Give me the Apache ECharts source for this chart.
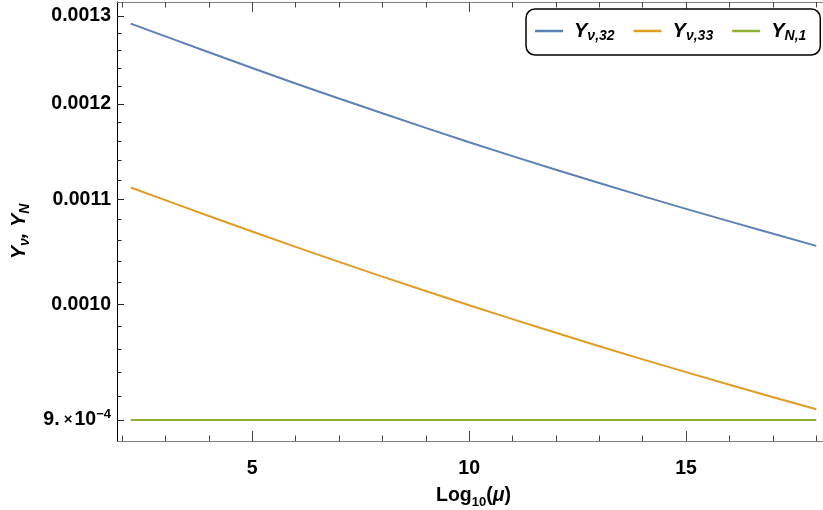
<!DOCTYPE html>
<html><head><meta charset="utf-8">
<script src="https://cdn.jsdelivr.net/npm/echarts@6/dist/echarts.min.js"></script>
<style>html,body{margin:0;padding:0;background:#fff}#c{width:823px;height:510px}</style>
</head><body><div id="c"></div>
<script>
// ---- data ----
const xValues = [2.2, 4, 6, 8, 10, 12, 14, 16, 18];
const yNu32 = [0.0012910, 0.0012578, 0.0012225, 0.0011899, 0.0011589, 0.0011303, 0.0011034, 0.0010784, 0.0010546];
const yNu33 = [0.0011121, 0.0010837, 0.0010536, 0.0010255, 0.00099906, 0.00097438, 0.00095109, 0.00092937, 0.00090880];
const yN1 = [0.0009, 0.0009, 0.0009, 0.0009, 0.0009, 0.0009, 0.0009, 0.0009, 0.0009];
const seriesNames = ['Y_ν,32', 'Y_ν,33', 'Y_N,1'];
const seriesColors = ['#5E81B5', '#E19C24', '#8FB032'];
const yMajorTicks = [0.0009, 0.0010, 0.0011, 0.0012, 0.0013];
const yTickLabels = ['9.{x| ×}10{sup|−4}', '0.0010', '0.0011', '0.0012', '0.0013'];
const yMinorTicks = [0.00092, 0.00094, 0.00096, 0.00098, 0.00102, 0.00104, 0.00106, 0.00108,
                     0.00112, 0.00114, 0.00116, 0.00118, 0.00122, 0.00124, 0.00126, 0.00128];
const xMajorTicks = [5, 10, 15];
const xMinorTicks = [2, 3, 4, 5, 6, 7, 8, 9, 10, 11, 12, 13, 14, 15, 16, 17, 18];
const xLabel = '{n|Log}{s|10}{n|(}{m|μ}{n|)}';
const yLabel = '{i|Y}{s|ν}{i|, Y}{s|N}';

// ---- chart ----
const L = Math.log;
const X_MIN = 1.884, X_MAX = 18.316;
const Y_MIN = L(0.00088297), Y_MAX = L(0.0013167);
const FONT = "'Liberation Sans', Arial, sans-serif";
const TICK_FS = 19.5;

function xAxisDef(pos, ticks, len, withLabel) {
  return {
    type: 'value', gridIndex: 0, position: pos, min: X_MIN, max: X_MAX,
    axisLine: { show: true, onZero: false, lineStyle: { color: '#7f7f7f', width: 1 } },
    axisTick: { show: true, inside: true, length: len, customValues: ticks, lineStyle: { color: '#444', width: 1 } },
    axisLabel: withLabel ? {
      show: true, customValues: ticks, margin: 18, color: '#000',
      fontSize: TICK_FS, fontWeight: 'bold', fontFamily: FONT
    } : { show: false },
    splitLine: { show: false }
  };
}
function yAxisDef(ticks, len, withLabel) {
  const lt = ticks.map(L);
  const ax = {
    type: 'value', gridIndex: 0, position: 'left', min: Y_MIN, max: Y_MAX,
    axisLine: { show: true, onZero: false, lineStyle: { color: '#000', width: 1 } },
    axisTick: { show: true, inside: true, length: len, customValues: lt, lineStyle: { color: '#222', width: 1 } },
    axisLabel: { show: false },
    splitLine: { show: false }
  };
  if (withLabel) {
    ax.axisLabel = {
      show: true, customValues: lt, margin: 6, color: '#000',
      fontSize: TICK_FS, fontWeight: 'bold', fontFamily: FONT, lineHeight: 24,
      formatter: function (v) {
        const i = yMajorTicks.findIndex(t => Math.abs(L(t) - v) < 1e-6);
        return i >= 0 ? yTickLabels[i] : '';
      },
      rich: {
        sup: { fontSize: 13, fontWeight: 'bold', fontFamily: FONT, color: '#000', verticalAlign: 'top', lineHeight: 13 },
        x: { fontSize: 15, fontWeight: 'bold', fontFamily: FONT, color: '#000', lineHeight: 24, padding: [0, 2, 0, 0] }
      }
    };
    ax.name = yLabel;
    ax.nameLocation = 'middle';
    ax.nameRotate = 90;
    ax.nameGap = 80;
    ax.nameTextStyle = {
      color: '#000', fontFamily: FONT, padding: [0, 20, 0, 0],
      rich: {
        i: { fontSize: 20, fontWeight: 'bold', fontStyle: 'italic', fontFamily: FONT, color: '#000', lineHeight: 26 },
        s: { fontSize: 14, fontWeight: 'bold', fontStyle: 'italic', fontFamily: FONT, color: '#000', lineHeight: 14, verticalAlign: 'bottom' }
      }
    };
  }
  return ax;
}

const xBottomMajor = xAxisDef('bottom', xMajorTicks, 10, true);
xBottomMajor.axisLine.show = false;
xBottomMajor.name = xLabel;
xBottomMajor.nameLocation = 'middle';
xBottomMajor.nameGap = 42;
xBottomMajor.nameTextStyle = {
  color: '#000', fontFamily: FONT,
  rich: {
    n: { fontSize: 19.5, fontWeight: 'bold', fontFamily: FONT, color: '#000', lineHeight: 26 },
    m: { fontSize: 19.5, fontWeight: 'bold', fontStyle: 'italic', fontFamily: FONT, color: '#000', lineHeight: 26 },
    s: { fontSize: 13, fontWeight: 'bold', fontFamily: FONT, color: '#000', lineHeight: 13, verticalAlign: 'bottom' }
  }
};
const xTopMajor = xAxisDef('top', xMajorTicks, 10, false);
xTopMajor.axisLine.show = false;

const yMajor = yAxisDef(yMajorTicks, 7, true);
const yMinor = yAxisDef(yMinorTicks, 4.5, false);
yMinor.axisLine.show = false;

const dataSets = [yNu32, yNu33, yN1];
const series = seriesNames.map((nm, k) => ({
  name: nm, type: 'line', xAxisIndex: 0, yAxisIndex: 0,
  data: xValues.map((x, i) => [x, L(dataSets[k][i])]),
  showSymbol: false, smooth: k < 2 ? 0.3 : false,
  lineStyle: { color: seriesColors[k], width: 2 },
  itemStyle: { color: seriesColors[k] },
  silent: true
}));

const option = {
  animation: false,
  backgroundColor: '#fff',
  textStyle: { fontFamily: FONT },
  grid: { left: 117, top: 2, width: 713, height: 439, containLabel: false, outerBoundsMode: 'none' },
  xAxis: [
    xAxisDef('bottom', xMinorTicks, 5.5, false),
    xBottomMajor,
    xAxisDef('top', xMinorTicks, 5.5, false),
    xTopMajor
  ],
  yAxis: [yMajor, yMinor],
  legend: {
    left: 526, top: 9,
    orient: 'horizontal',
    padding: [12, 14, 12, 9],
    itemGap: 19, itemWidth: 28, itemHeight: 2.5, icon: 'rect',
    borderColor: '#000', borderWidth: 1.5, borderRadius: 9,
    backgroundColor: '#fff',
    data: seriesNames,
    formatter: function (name) {
      const p = name.split('_');
      return '{y|' + p[0] + '}{s|' + p[1] + '}';
    },
    textStyle: {
      padding: [0, 0, 0, 6],
      rich: {
        y: { fontSize: 20, fontWeight: 'bold', fontStyle: 'italic', fontFamily: FONT, color: '#000', lineHeight: 24 },
        s: { fontSize: 14, fontWeight: 'bold', fontStyle: 'italic', fontFamily: FONT, color: '#000', lineHeight: 14, verticalAlign: 'bottom' }
      }
    }
  },
  series: series
};

const chart = echarts.init(document.getElementById('c'), null, { renderer: 'canvas' });
chart.setOption(option);
</script>
</body></html>
